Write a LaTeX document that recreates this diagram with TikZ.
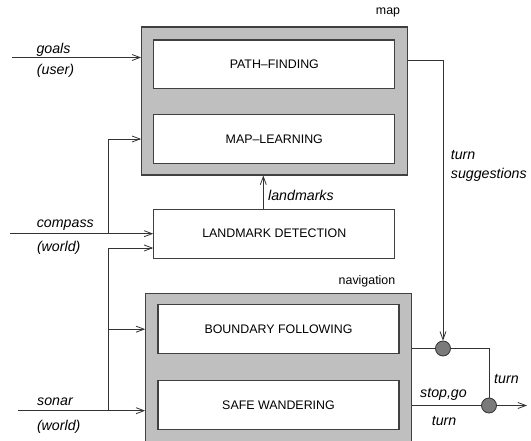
\documentclass[tikz,border=0pt]{standalone}
\usepackage{fontspec}
\setmainfont{Liberation Sans}
\usepackage{tikz}
\usetikzlibrary{arrows.meta,positioning,calc}
\newcommand\modfont{\fontsize{12.4}{14}\selectfont}
\newcommand\lblfont{\fontsize{14.2}{16}\selectfont\itshape}
\tikzset{
  outer/.style={draw=black!75, fill=gray!50, line width=1.1pt, minimum width=266pt, minimum height=#1, inner sep=0pt},
  module/.style={draw=black!75, fill=white, line width=1.1pt, minimum width=241pt, minimum height=48.5pt, inner sep=0pt, font=\modfont},
  junction/.style={circle, draw=black!80, fill=black!52, line width=0.8pt, minimum size=15pt, inner sep=0pt},
  lbl/.style={font=\lblfont, inner sep=0pt},
  arrow/.style={->, >={Straight Barb[length=8pt,width=6pt]}, line width=0.8pt, draw=black!80},
  wire/.style={line width=0.8pt, draw=black!80},
}

\begin{document}
\begin{tikzpicture}[x=1pt, y=-1pt]
\useasboundingbox (0,0) rectangle (531,441);

% Map module
\node[outer=148pt] (map) at (274.7,101) {};
\node[module] (pathfind) at (274.3,64.3) {PATH--FINDING};
\node[module] (maplearn) at (274.3,139) {MAP--LEARNING};
\node[font=\modfont, inner sep=0pt] (maplbl) at (388,12) {map};

% Landmark detection
\node[module, minimum height=49pt] (landmark) at (274.3,233.7) {LANDMARK DETECTION};

% Navigation module (cut off at the bottom)
\node[outer=166pt] (nav) at (278.7,376.7) {};
\node[module] (boundary) at (278.5,329.2) {BOUNDARY FOLLOWING};
\node[module] (safe) at (278.5,404.9) {SAFE WANDERING};
\node[font=\modfont, inner sep=0pt] (navlbl) at (367,281) {navigation};

% Inputs
\coordinate (goalsin) at (12,57.5);
\coordinate (cmpin) at (10,233.7);
\coordinate (sonin) at (18,410.7);
\coordinate (cmpsplit) at (108,233.7);
\coordinate (sonsplit) at (108,410.7);
\coordinate (out) at (527,405.5);

\draw[arrow] (goalsin) -- (goalsin -| map.west);
\draw[arrow] (cmpin) -- (landmark.west);
\draw[arrow] (cmpsplit) |- (maplearn -| map.west);
\draw[arrow] (sonin) -- (sonin -| nav.west);
\draw[arrow] (sonsplit) |- ([yshift=-14.3pt]landmark.west);
\draw[arrow] (sonsplit |- boundary) -- (boundary -| nav.west);
\draw[arrow] ([xshift=-11pt]landmark.north) -- ([xshift=-11pt]landmark.north |- map.south);

\node[lbl] (goals) at (53.5,50) {goals};
\node[lbl] (user) at (55.5,71) {(user)};
\node[lbl] (compass) at (65.3,225) {compass};
\node[lbl] (world1) at (58.7,248) {(world)};
\node[lbl] (sonar) at (55,401.7) {sonar};
\node[lbl] (world2) at (58.7,426.7) {(world)};
\node[lbl, anchor=west] (lmklbl) at (268,195) {landmarks};

% Outputs and junctions
\node[junction] (j1) at (443,348.5) {};
\node[junction] (j2) at (489,405.5) {};

\draw[arrow] ($(map.east |- pathfind)+(0,-4)$) -| (j1.north);
\draw[wire] (nav.east |- j1) -- (j1);
\draw[wire] (j1) -| (j2);
\draw[wire] (nav.east |- j2) -- (j2);
\draw[arrow] (j2) -- (out);

\node[lbl, anchor=west] (turnlbl) at (450.7,155) {turn};
\node[lbl, anchor=west] (suglbl) at (450.7,175) {suggestions};
\node[lbl, anchor=west] (turnlbl2) at (494,379) {turn};
\node[lbl, anchor=west] (stoplbl) at (420,394) {stop,go};
\node[lbl, anchor=west] (turnlbl3) at (431.7,421) {turn};

\end{tikzpicture}
\end{document}
